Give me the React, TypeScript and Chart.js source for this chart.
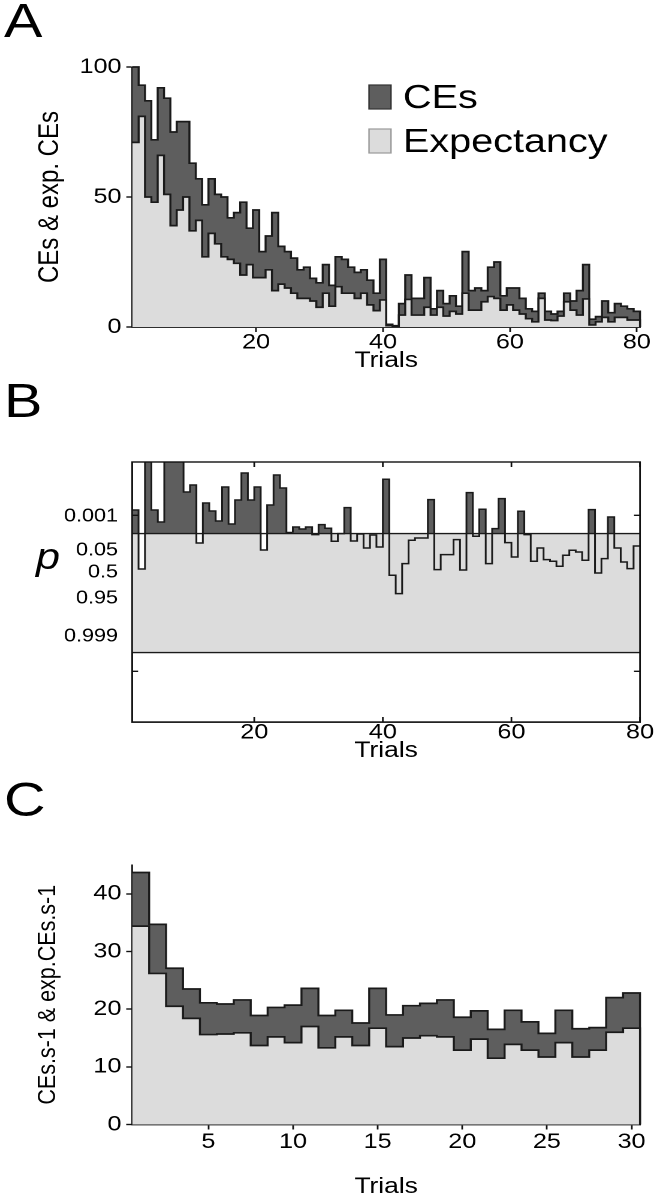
import React, { useEffect, useRef } from 'react';
import { Chart, registerables } from 'chart.js';

Chart.register(...registerables);

// ---------- data ----------
// Panel A: critical events (CEs) per trial and their expectancy
const A_CES = [
  100, 93, 87, 72, 92, 88, 75, 79, 79, 63,
  57, 47, 57, 51, 50, 42, 44, 48, 38, 45,
  29, 35, 44, 31, 29, 26.5, 22, 23, 18.7, 17,
  24, 16, 27, 26, 23, 21, 22, 18, 13, 26,
  1, 0.5, 9, 20, 11, 11, 19, 7, 14, 9,
  12, 8, 29, 14, 15, 14, 23, 25, 12, 15,
  15, 11, 7, 6, 13, 6, 5, 6, 13, 10,
  14, 24, 3, 4, 10, 5.5, 9, 8, 7, 6,
];
const A_EXP = [
  71, 81, 50, 48, 66, 51, 39, 45, 50, 37,
  41, 27, 36, 32, 27, 26, 24.5, 20, 24, 19,
  19, 22, 14, 16.5, 15, 13, 11, 11, 10, 7.6,
  13, 8, 15.5, 13, 13, 11, 13, 8.5, 6.3, 10.4,
  0.5, 0.3, 4.6, 10.6, 4.6, 4.6, 7.6, 4.6, 7.6, 4.2,
  6, 5, 13, 6.5, 6.5, 9.7, 11.7, 11, 6.5, 8.5,
  6.5, 5, 3.2, 2, 11, 2.7, 2.5, 4.2, 9.7, 6.5,
  4.6, 10.8, 0.8, 2, 3.7, 2, 3.7, 3.7, 2.7, 2.7,
];
const A_LABELS = ['CEs', 'Expectancy'];
const A_X_TICKS = [20, 40, 60, 80];
const A_Y_TICKS = [0, 50, 100];

// Panel B: p value per trial, on the figure's (non-linear) p axis
const B_P = [
  21.2, 15.3, 28, 21.2, 20, 28, 28, 28, 23, 23.7,
  17.9, 21.9, 21.1, 20.1, 23.5, 19.8, 22.2, 24.9, 22.2, 23.5,
  17.2, 21.7, 24.7, 23.4, 18.95, 19.5, 19.3, 19.5, 18.74, 19.74,
  19.37, 18.07, 18.84, 21.44, 18.1, 18.8, 17.4, 18.7, 17.5, 24.27,
  14.67, 12.84, 15.84, 18.17, 18.4, 18.4, 22.24, 15.24, 16.74, 16.74,
  18.24, 15.2, 22.94, 18.57, 21.27, 15.84, 19.34, 22.34, 17.94, 16.5,
  21.07, 18.74, 16.07, 17.4, 16.24, 16.07, 15.57, 16.67, 17.17, 17.0,
  16.17, 21.24, 14.9, 16.34, 20.5, 17.4, 16.0, 15.34, 17.6,
];
const B_EARLY = 25; // trials whose dips below the limit are left white
const B_BAND = [6.94, 18.84]; // lower and upper significance limits
const B_Y_RANGE = [0, 26];
const B_Y_LABELS = ['0.001', '0.05', '0.5', '0.95', '0.999'];
const B_Y_LABEL_AT = [20.57, 17.17, 14.97, 12.37, 8.57];
const B_Y_MARKS = [20.67, 5.07];
const B_X_TICKS = [20, 40, 60, 80];

// Panel C: CEs.s-1 and expectancy per trial
const C_CES = [
  43.7, 34.7, 27.1, 23.5, 21.1, 20.9, 21.6, 18.9, 20.3, 20.7,
  23.6, 18.9, 19.8, 17.6, 23.6, 19, 20.6, 21, 21.6, 18.6,
  19.7, 16.5, 19.8, 17.8, 15.8, 19.8, 16.6, 16.8, 22, 22.8,
];
const C_EXP = [
  34.4, 26.2, 20.5, 18.4, 15.6, 15.7, 15.9, 13.7, 15.2, 14.2,
  17, 13.3, 15.2, 13.7, 16.7, 13.5, 15, 15.4, 15.2, 12.9,
  14.8, 11.5, 13.9, 12.9, 11.7, 14.2, 11.7, 12.9, 16, 16.7,
];
const C_X_TICKS = [5, 10, 15, 20, 25, 30];
const C_Y_TICKS = [0, 10, 20, 30, 40];

// ---------- style ----------
const IW = 548; // internal width; the reference figure is stretched horizontally
const K = IW / 657; // page px -> internal px
const FONT = "'Liberation Sans', Arial, Helvetica, sans-serif";
const DARK = '#5e5e5e';
const LIGHT = '#dcdcdc';
const LINE = '#1a1a1a';
const AXIS = '#111111';
const LW = 1.7;

function steps(vals: number[], start: number, close: boolean) {
  const pts = vals.map((v, i) => ({ x: start + i, y: v }));
  pts.push({ x: start + vals.length, y: vals[vals.length - 1] });
  if (close) pts.push({ x: start + vals.length, y: 0 });
  return pts;
}

const insideLegend = {
  id: 'insideLegend',
  afterDraw(chart: any, _a: any, o: any) {
    if (!o || !o.items) return;
    const ctx = chart.ctx;
    ctx.save();
    ctx.font = `${o.size}px ${FONT}`;
    ctx.textBaseline = 'middle';
    ctx.textAlign = 'left';
    o.items.forEach((di: number, r: number) => {
      const ds = chart.data.datasets[di];
      const y = o.y + r * o.rowH;
      ctx.fillStyle = ds.backgroundColor;
      ctx.fillRect(o.x, y, o.boxW, o.boxH);
      ctx.strokeStyle = o.boxBorders[r];
      ctx.lineWidth = 1.2;
      ctx.strokeRect(o.x, y, o.boxW, o.boxH);
      ctx.fillStyle = '#000';
      ctx.fillText(ds.label, o.x + o.boxW + o.gap, y + o.boxH / 2 + 2);
    });
    ctx.restore();
  },
};

const frameTicks = {
  id: 'frameTicks',
  afterDatasetsDraw(chart: any, _a: any, o: any) {
    if (!o || !o.len) return;
    const { ctx, chartArea: ca, scales } = chart;
    ctx.save();
    ctx.strokeStyle = AXIS;
    ctx.lineWidth = 1.4;
    ctx.strokeRect(ca.left, ca.top, ca.right - ca.left, ca.bottom - ca.top);
    ctx.beginPath();
    for (const v of o.xMarks) {
      const px = scales.x.getPixelForValue(v);
      ctx.moveTo(px, ca.bottom);
      ctx.lineTo(px, ca.bottom - o.len);
      ctx.moveTo(px, ca.top);
      ctx.lineTo(px, ca.top + o.len);
    }
    for (const v of o.yMarks) {
      const py = scales.y.getPixelForValue(v);
      ctx.moveTo(ca.left, py);
      ctx.lineTo(ca.left + o.len, py);
      ctx.moveTo(ca.right, py);
      ctx.lineTo(ca.right - o.len, py);
    }
    ctx.stroke();
    ctx.restore();
  },
};

const tickFont = { family: FONT, size: 21, lineHeight: 1 };
const pTickFont = { family: FONT, size: 18, lineHeight: 1 };
const xTitleFont = { family: FONT, size: 22, lineHeight: 1.2 };

function areaSet(label: string, vals: number[], color: string, order: number) {
  return {
    label,
    data: steps(vals, 0.5, true),
    stepped: 'before',
    borderColor: LINE,
    borderWidth: LW,
    backgroundColor: color,
    fill: 'origin',
    pointRadius: 0,
    order,
    clip: false,
  };
}

function xAxis(min: number, max: number, ticks: number[], height: number, tickPad: number, titlePad: number, outerTicks: boolean) {
  return {
    type: 'linear',
    min,
    max,
    afterBuildTicks: (s: any) => {
      s.ticks = ticks.map((v) => ({ value: v }));
    },
    afterFit: (s: any) => {
      s.height = height;
    },
    grid: {
      display: outerTicks,
      drawOnChartArea: false,
      drawTicks: outerTicks,
      tickLength: 5,
      tickColor: AXIS,
      tickWidth: 1.4,
    },
    border: { display: true, color: AXIS, width: 1.4 },
    ticks: { color: '#000', font: tickFont, padding: tickPad, maxRotation: 0, autoSkip: false },
    title: { display: true, text: 'Trials', color: '#000', font: xTitleFont, padding: { top: 0, bottom: titlePad } },
  };
}

function yAxis(
  min: number,
  max: number,
  tickVals: number[],
  width: number,
  title: string | null,
  titleSize: number,
  titlePad: number,
  outerTicks: boolean,
  tickPad: number,
  font: any,
  labels?: string[],
) {
  return {
    type: 'linear',
    min,
    max,
    afterBuildTicks: (s: any) => {
      s.ticks = tickVals.map((v) => ({ value: v }));
    },
    afterFit: (s: any) => {
      s.width = width;
    },
    grid: {
      display: outerTicks,
      drawOnChartArea: false,
      drawTicks: outerTicks,
      tickLength: 5,
      tickColor: AXIS,
      tickWidth: 1.4,
    },
    border: { display: true, color: AXIS, width: 1.4 },
    ticks: {
      color: '#000',
      font,
      padding: tickPad,
      callback: labels ? (_v: any, i: number) => labels[i] : (v: any) => String(v),
    },
    title: title
      ? {
          display: true,
          text: title,
          color: '#000',
          font: { family: FONT, size: titleSize, lineHeight: 1.2 },
          padding: { top: titlePad, bottom: 0 },
        }
      : { display: false },
  };
}

function configA() {
  return {
    type: 'line',
    data: {
      datasets: [areaSet(A_LABELS[1], A_EXP, LIGHT, 0), areaSet(A_LABELS[0], A_CES, DARK, 1)],
    },
    options: {
      animation: false,
      responsive: false,
      devicePixelRatio: 2,
      layout: { padding: { left: 0, right: IW - 640 * K, top: 67, bottom: 6 } },
      plugins: {
        legend: { display: false },
        tooltip: { enabled: false },
        insideLegend: {
          items: [1, 0],
          x: 369 * K,
          y: 85,
          rowH: 44,
          boxW: 22 * K,
          boxH: 24,
          gap: 12 * K,
          size: 33,
          boxBorders: ['#333333', '#9a9a9a'],
        },
      },
      scales: {
        x: xAxis(0.5, 80.5, A_X_TICKS, 47, 0, 0, true),
        y: yAxis(0, 100, A_Y_TICKS, 132.3 * K, 'CEs & exp. CEs', 24, 27.3, true, 4, tickFont),
      },
    },
    plugins: [insideLegend],
  };
}

function configB() {
  const flat = (v: number) => [
    { x: 1, y: v },
    { x: 80, y: v },
  ];
  const early = B_P.slice(0, B_EARLY);
  const late = B_P.slice(B_EARLY);
  const pSet = (data: any[], below: string) => ({
    label: 'p',
    data,
    stepped: 'before',
    borderColor: LINE,
    borderWidth: 1.5,
    fill: { target: { value: B_BAND[1] }, above: DARK, below },
    pointRadius: 0,
    order: 2,
  });
  return {
    type: 'line',
    data: {
      datasets: [
        {
          label: 'band',
          data: flat(B_BAND[1]),
          borderWidth: 0,
          borderColor: 'rgba(0,0,0,0)',
          backgroundColor: LIGHT,
          fill: { value: B_BAND[0] },
          pointRadius: 0,
          order: 3,
        },
        pSet(steps(early, 1, false), '#ffffff'),
        pSet([{ x: 1 + B_EARLY, y: early[early.length - 1] }, ...steps(late, 1 + B_EARLY, false)], 'rgba(0,0,0,0)'),
        { label: 'upper', data: flat(B_BAND[1]), borderColor: LINE, borderWidth: 1.4, fill: false, pointRadius: 0, order: 1 },
        { label: 'lower', data: flat(B_BAND[0]), borderColor: LINE, borderWidth: 1.4, fill: false, pointRadius: 0, order: 1 },
      ],
    },
    options: {
      animation: false,
      responsive: false,
      devicePixelRatio: 2,
      layout: { padding: { left: 0, right: IW - 640 * K, top: 82, bottom: 15.8 } },
      plugins: {
        legend: { display: false },
        tooltip: { enabled: false },
        frameTicks: { len: 5, xMarks: B_X_TICKS, yMarks: B_Y_MARKS },
      },
      scales: {
        x: xAxis(1, 80, B_X_TICKS, 42.2, 0, 0, false),
        y: yAxis(B_Y_RANGE[0], B_Y_RANGE[1], B_Y_LABEL_AT, 132.1 * K, null, 0, 0, false, 11.8, pTickFont, B_Y_LABELS),
      },
    },
    plugins: [frameTicks],
  };
}

function configC() {
  return {
    type: 'line',
    data: {
      datasets: [areaSet('Expectancy', C_EXP, LIGHT, 0), areaSet('CEs', C_CES, DARK, 1)],
    },
    options: {
      animation: false,
      responsive: false,
      devicePixelRatio: 2,
      layout: { padding: { left: 0, right: IW - 640 * K, top: 85, bottom: 0 } },
      plugins: { legend: { display: false }, tooltip: { enabled: false } },
      scales: {
        x: xAxis(0.5, 30.5, C_X_TICKS, 75.5, 2, 0, true),
        y: yAxis(0, 45, C_Y_TICKS, 132.2 * K, 'CEs.s-1 & exp.CEs.s-1', 21.5, 27.1, true, 4, tickFont),
      },
    },
  };
}

function ChartCanvas({ make, top, height }: { make: () => any; top: number; height: number }) {
  const ref = useRef<HTMLCanvasElement>(null);
  useEffect(() => {
    const chart = new Chart(ref.current as HTMLCanvasElement, make());
    return () => chart.destroy();
  }, []);
  return (
    <canvas
      ref={ref}
      width={IW}
      height={height}
      style={{ position: 'absolute', left: 0, top, width: IW, height, display: 'block' }}
    />
  );
}

function Text({ children, left, top, size, italic }: any) {
  return (
    <div
      style={{
        position: 'absolute',
        left,
        top,
        fontSize: size,
        lineHeight: 1,
        fontStyle: italic ? 'italic' : 'normal',
        whiteSpace: 'nowrap',
        color: '#000',
      }}
    >
      {children}
    </div>
  );
}

export default function App() {
  return (
    <div
      style={{
        position: 'absolute',
        left: 0,
        top: 0,
        width: IW,
        height: 1199,
        transform: `scaleX(${657 / IW})`,
        transformOrigin: '0 0',
        fontFamily: FONT,
        background: '#fff',
        overflow: 'hidden',
      }}
    >
      <ChartCanvas make={configA} top={0} height={380} />
      <ChartCanvas make={configB} top={380} height={400} />
      <ChartCanvas make={configC} top={780} height={420} />
      <Text left={4 * K} top={-3} size={48}>A</Text>
      <Text left={4 * K} top={377} size={48}>B</Text>
      <Text left={4 * K} top={776} size={48}>C</Text>
      <Text left={36 * K} top={539} size={36} italic>p</Text>
    </div>
  );
}
